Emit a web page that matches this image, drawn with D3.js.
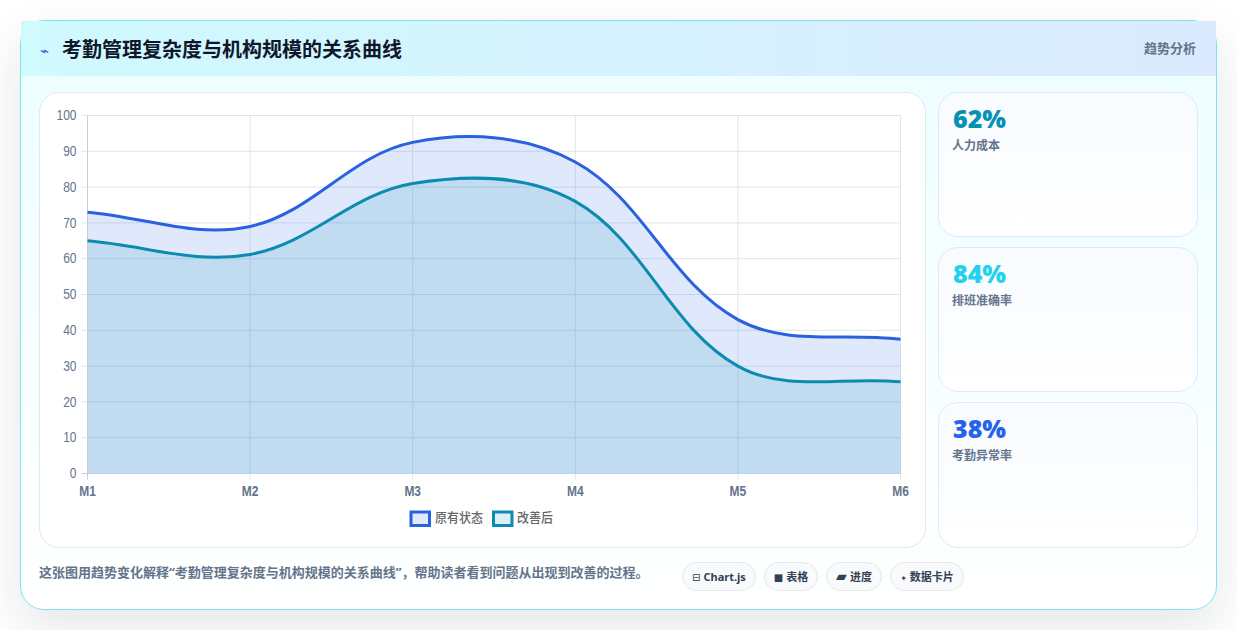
<!DOCTYPE html>
<html lang="zh">
<head>
<meta charset="utf-8">
<script src="https://cdn.jsdelivr.net/npm/d3@7/dist/d3.min.js"></script>
<style>
  * { box-sizing: border-box; }
  html, body { margin: 0; width: 1237px; height: 630px; overflow: hidden; background: #fff;
    font-family: "Noto Sans", "Noto Sans CJK SC", "DejaVu Sans", sans-serif; }
  .abs { position: absolute; }
  #card { left: 20px; top: 20px; width: 1197px; height: 590px; border: 1px solid #7fe3ef; border-radius: 24px;
    background: linear-gradient(180deg, #ecfeff 0%, #ffffff 100%); box-shadow: 0 18px 50px rgba(15,23,42,.11); }
  #header { left: 21px; top: 21px; width: 1195px; height: 55px;
    background: linear-gradient(90deg, #cffafe 0%, #dbeafe 100%); }
  #title { left: 62px; top: 35px; font-size: 20px; font-weight: 700; color: #0f172a; line-height: 30px; white-space: nowrap; }
  #bolt { left: 40px; top: 41px; font-family: "DejaVu Sans", sans-serif; font-size: 15px; color: #2563eb; line-height: 20px; }
  #tag { left: 1144px; top: 38px; font-size: 13px; font-weight: 700; color: #64748b; line-height: 20px; white-space: nowrap; }
  #chartBox { left: 39px; top: 92px; width: 887px; height: 456px; border: 1px solid #e2e8f0; border-radius: 20px; background: #fff; }
  .stat { left: 938px; width: 260px; border: 1px solid #dbeafe; border-radius: 20px;
    background: linear-gradient(180deg, #f8fbff 0%, #ffffff 100%); }
  .stat .num { position: absolute; left: 14px; top: 7px; font-family: "Noto Sans", sans-serif; font-size: 25px; font-weight: 900; line-height: 36px; }
  .stat .lab { position: absolute; left: 13px; top: 44px; font-size: 12px; font-weight: 700; color: #64748b; line-height: 18px; white-space: nowrap; }
  #note { left: 39px; top: 562px; font-size: 13px; font-weight: 700; color: #64748b; line-height: 20px; white-space: nowrap; }
  .chip { top: 562px; height: 29px; border: 1px solid #e2e8f0; border-radius: 15px; background: #f8fafc;
    font-size: 11px; font-weight: 700; color: #334155; line-height: 27px; text-align: center; white-space: nowrap; }
  .chip .icon { font-family: "DejaVu Sans", sans-serif; font-weight: 400; margin-right: 3px; }
  svg { position: absolute; left: 0; top: 0; }
  svg text { font-family: "Liberation Sans", Arial, sans-serif; }
</style>
</head>
<body>
<div id="root"></div>
<script>
// Monthly categories and the two measured series
const months = ["M1", "M2", "M3", "M4", "M5", "M6"];
const originalState = [73, 69, 92.5, 87, 43, 37.5];
const improved = [65, 61.2, 81, 76, 30, 25.6];
const yTicks = [0, 10, 20, 30, 40, 50, 60, 70, 80, 90, 100];
const seriesNames = ["原有状态", "改善后"];
const seriesStroke = ["#2a61e0", "#0c8bb0"];
const seriesFill = ["rgba(37,99,235,0.14)", "rgba(8,145,178,0.14)"];

// Side panel figures
const statValues = ["62%", "84%", "38%"];
const statLabels = ["人力成本", "排班准确率", "考勤异常率"];
const statColors = ["#0891b2", "#22d3ee", "#2563eb"];
const statTops = [92, 247, 402];
const statHeights = [145, 145, 146];

// Footer chips
const chipIcons = ["⊟", "■", "▰", "✦"];
const chipIconSizes = [10, 10, 14, 8];
const chipLabels = ["Chart.js", "表格", "进度", "数据卡片"];
const chipLefts = [682, 764, 826, 890];
const chipWidths = [74, 54, 56, 74];

const titleText = "考勤管理复杂度与机构规模的关系曲线";
const noteText = "这张图用趋势变化解释“考勤管理复杂度与机构规模的关系曲线”，帮助读者看到问题从出现到改善的过程。";

const root = d3.select("#root");
const box = (id, cls) => root.append("div").attr("id", id).attr("class", "abs " + (cls || ""));
box("card");
box("header");
box("bolt").text("⌁");
box("title").text(titleText);
box("tag").text("趋势分析");
box("chartBox");

statValues.forEach((v, i) => {
  const s = root.append("div").attr("class", "abs stat")
    .style("top", statTops[i] + "px").style("height", statHeights[i] + "px");
  s.append("div").attr("class", "num").style("color", statColors[i]).text(v);
  s.append("div").attr("class", "lab").text(statLabels[i]);
});

box("note").text(noteText);
chipLabels.forEach((t, i) => {
  const chip = root.append("div").attr("class", "abs chip")
    .style("left", chipLefts[i] + "px").style("width", chipWidths[i] + "px");
  chip.append("span").attr("class", "icon").style("font-size", chipIconSizes[i] + "px").text(chipIcons[i]);
  chip.append("span").text(t);
});

const svg = root.append("svg").attr("width", 1237).attr("height", 630);
const x = d3.scalePoint().domain(months).range([87.5, 900.5]);
const y = d3.scaleLinear().domain([0, 100]).range([473.5, 115.5]);
const labelStretch = 1.15;

// Grid lines and axis borders
const grid = svg.append("g").attr("fill", "none").attr("stroke", "#dfe5ec").attr("stroke-width", 1);
grid.selectAll(".h").data(yTicks).join("line").attr("class", "h")
  .attr("x1", x("M1") - 6).attr("x2", x("M6")).attr("y1", d => y(d)).attr("y2", d => y(d));
grid.selectAll(".v").data(months).join("line").attr("class", "v")
  .attr("x1", d => x(d)).attr("x2", d => x(d)).attr("y1", y(100)).attr("y2", y(0) + 6);

// Spline with distance-weighted control points
const tension = 0.36;
function splinePath(values, closeToBase) {
  const pts = values.map((v, i) => ({ x: x(months[i]), y: y(v) }));
  const ctrl = pts.map((p, i) => {
    const a = pts[i - 1] || p, b = pts[i + 1] || p;
    const d01 = Math.hypot(p.x - a.x, p.y - a.y), d12 = Math.hypot(b.x - p.x, b.y - p.y);
    const sum = d01 + d12 || 1;
    const fa = tension * d01 / sum, fb = tension * d12 / sum;
    return {
      px: p.x - fa * (b.x - a.x), py: p.y - fa * (b.y - a.y),
      nx: p.x + fb * (b.x - a.x), ny: p.y + fb * (b.y - a.y)
    };
  });
  const path = d3.path();
  path.moveTo(pts[0].x, pts[0].y);
  for (let i = 1; i < pts.length; i++) {
    path.bezierCurveTo(ctrl[i - 1].nx, ctrl[i - 1].ny, ctrl[i].px, ctrl[i].py, pts[i].x, pts[i].y);
  }
  if (closeToBase) {
    path.lineTo(x(months[months.length - 1]), y(0));
    path.lineTo(x(months[0]), y(0));
    path.closePath();
  }
  return path.toString();
}

const allSeries = [originalState, improved];
svg.append("g").selectAll("path").data(allSeries).join("path")
  .attr("d", d => splinePath(d, true))
  .attr("fill", (d, i) => seriesFill[i]);

const border = svg.append("g").attr("stroke", "#c3cfdd").attr("stroke-width", 1);
border.append("line").attr("x1", x("M1")).attr("x2", x("M1")).attr("y1", y(100)).attr("y2", y(0) + 6);
border.append("line").attr("x1", x("M1") - 6).attr("x2", x("M6")).attr("y1", y(0)).attr("y2", y(0));

svg.append("g").selectAll("path").data(allSeries).join("path")
  .attr("d", d => splinePath(d, false))
  .attr("fill", "none").attr("stroke-width", 3)
  .attr("stroke", (d, i) => seriesStroke[i]);

// Axis labels, drawn slightly tall
svg.append("g").selectAll("text").data(yTicks).join("text")
  .attr("transform", d => `translate(${x("M1") - 11},${y(d) + 4.6}) scale(1,${labelStretch})`)
  .attr("text-anchor", "end").attr("font-size", 12).attr("fill", "#64748b").text(d => d);
svg.append("g").selectAll("text").data(months).join("text")
  .attr("transform", d => `translate(${x(d)},496) scale(1,${labelStretch})`)
  .attr("text-anchor", "middle")
  .attr("font-size", 12).attr("font-weight", 700).attr("fill", "#64748b").text(d => d);

// Legend
const legendBoxX = [411, 493.5], legendTextX = [435, 517];
const legend = svg.append("g").selectAll("g").data(seriesNames).join("g");
legend.append("rect").attr("x", (d, i) => legendBoxX[i]).attr("y", 512)
  .attr("width", 18.5).attr("height", 13.5).attr("stroke-width", 3)
  .attr("fill", (d, i) => seriesFill[i]).attr("stroke", (d, i) => seriesStroke[i]);
legend.append("text").attr("transform", (d, i) => `translate(${legendTextX[i]},522) scale(1,1.08)`)
  .attr("font-size", 12).attr("font-weight", 500).attr("fill", "#666")
  .style("font-family", '"Noto Sans CJK SC"').text(d => d);
</script>
</body>
</html>
